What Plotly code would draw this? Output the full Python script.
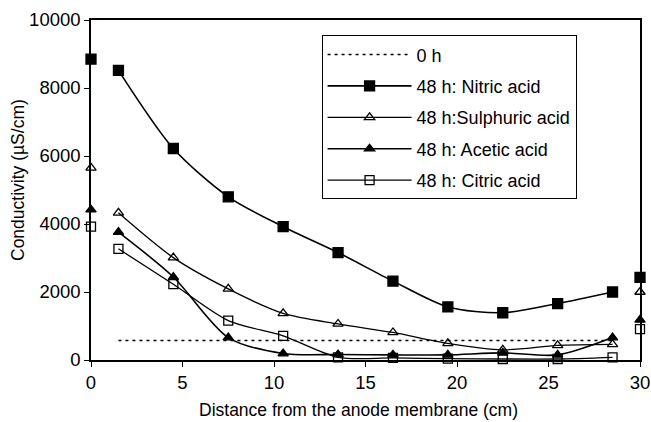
import plotly.graph_objects as go

# Distances (cm) of the middle compartments
x_mid = [1.5, 4.5, 7.5, 10.5, 13.5, 16.5, 19.5, 22.5, 25.5, 28.5]
# End compartments (anode at 0, cathode at 30)
x_ends = [0, 30]

h0 = [570, 570, 570, 570, 570, 570, 570, 570, 570, 570]

nitric = [8520, 6220, 4800, 3920, 3160, 2320, 1560, 1390, 1660, 2000]
nitric_ends = [8850, 2430]

sulphuric = [4330, 3010, 2090, 1370, 1060, 810, 490, 300, 430, 460]
sulphuric_ends = [5650, 2000]

acetic = [3760, 2440, 660, 190, 160, 150, 150, 210, 150, 660]
acetic_ends = [4420, 1180]

citric = [3270, 2230, 1160, 710, 80, 60, 40, 30, 30, 80]
citric_ends = [3920, 910]

names = ["48 h: Nitric acid", "48 h:Sulphuric acid", "48 h: Acetic acid", "48 h: Citric acid"]
x_title = "Distance from the anode membrane (cm)"
y_title = "Conductivity (µS/cm)"

FONT = "Liberation Sans, Arial, sans-serif"

fig = go.Figure()

fig.add_trace(go.Scatter(
    x=x_mid, y=h0, mode="lines", name="0 h", legendgroup="a",
    line=dict(color="black", width=1.5, dash="3px,4px"),
))

styles = [
    (nitric, nitric_ends, "square", 10, 1.6),
    (sulphuric, sulphuric_ends, "triangle-up-open", 9, 1.3),
    (acetic, acetic_ends, "triangle-up", 9, 1.6),
    (citric, citric_ends, "square-open", 9, 1.3),
]

for i, (vals, ends, sym, size, lw) in enumerate(styles):
    fig.add_trace(go.Scatter(
        x=x_mid, y=vals, mode="lines+markers", name=names[i], legendgroup=str(i),
        line=dict(color="black", width=lw, shape="spline", smoothing=0.8),
        marker=dict(symbol=sym, size=size, color="black", line=dict(color="black", width=1.3)),
        cliponaxis=False,
    ))
    fig.add_trace(go.Scatter(
        x=x_ends, y=ends, mode="markers", showlegend=False,
        marker=dict(symbol=sym, size=size, color="black", line=dict(color="black", width=1.3)),
        cliponaxis=False,
    ))

fig.update_layout(
    width=651, height=422,
    margin=dict(l=91, r=11, t=20, b=62),
    paper_bgcolor="white", plot_bgcolor="white",
    font=dict(family=FONT, size=18, color="black"),
    showlegend=True,
    legend=dict(
        x=0.42, y=0.955, xanchor="left", yanchor="top",
        bordercolor="black", borderwidth=1, bgcolor="white",
        font=dict(size=18), tracegroupgap=5, traceorder="grouped",
        itemwidth=84,
    ),
    xaxis=dict(
        range=[0, 30], tickvals=[0, 5, 10, 15, 20, 25, 30],
        showline=True, linecolor="black", linewidth=1.5, mirror=True,
        ticks="outside", ticklen=5, tickcolor="black", showgrid=False, zeroline=False,
        tickfont=dict(size=18.5),
        automargin=False,
    ),
    yaxis=dict(
        range=[0, 10000], tickvals=[0, 2000, 4000, 6000, 8000, 10000], tickformat="d",
        showline=True, linecolor="black", linewidth=1.5, mirror=True,
        ticks="outside", ticklen=5, tickcolor="black", showgrid=False, zeroline=False,
        tickfont=dict(size=18.5),
        automargin=False,
    ),
    annotations=[
        dict(text=x_title, xref="paper", yref="paper", x=(358 - 91) / 549, y=(360 - 410) / 340,
             xanchor="center", yanchor="middle", showarrow=False, font=dict(size=17.5)),
        dict(text=y_title, xref="paper", yref="paper", x=(18 - 91) / 549, y=(360 - 180) / 340,
             xanchor="center", yanchor="middle", showarrow=False, textangle=-90, font=dict(size=17.5)),
    ],
)

fig.write_html("out.html")
